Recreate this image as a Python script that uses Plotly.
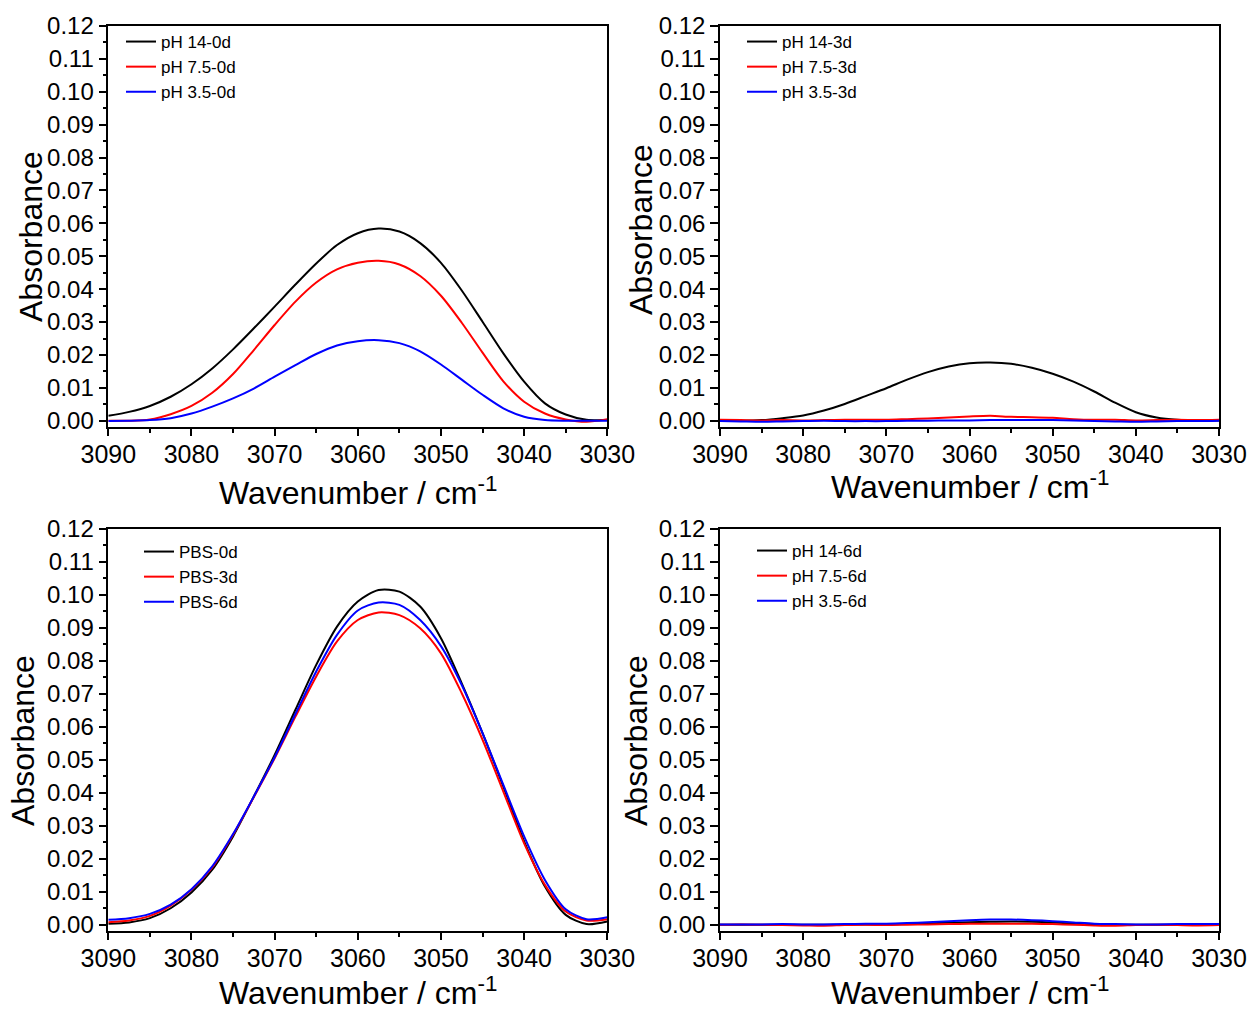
import plotly.graph_objects as go

# ---------------- data ----------------
wavenumber = [3090, 3087.5, 3085, 3082.5, 3080, 3077.5, 3075, 3072.5, 3070, 3067.5,
              3065, 3062.5, 3060, 3057.5, 3055, 3052.5, 3050, 3047.5, 3045, 3042.5,
              3040, 3037.5, 3035, 3032.5, 3030]

# panel a: day 0
ph14_0d = [0.0015, 0.0027, 0.0045, 0.0073, 0.0111, 0.0159, 0.0217, 0.0281, 0.0347, 0.0414,
           0.0478, 0.0534, 0.0570, 0.0584, 0.0575, 0.0540, 0.0480, 0.0396, 0.0301, 0.0205,
           0.0119, 0.0053, 0.0019, 0.0003, 0.0002]
ph75_0d = [0.0000, 0.0000, 0.0004, 0.0020, 0.0045, 0.0085, 0.0142, 0.0215, 0.0291, 0.0362,
           0.0420, 0.0460, 0.0480, 0.0486, 0.0475, 0.0440, 0.0380, 0.0298, 0.0207, 0.0120,
           0.0058, 0.0022, 0.0004, -0.0003, 0.0005]
ph35_0d = [-0.0001, 0.0000, 0.0002, 0.0008, 0.0022, 0.0043, 0.0068, 0.0098, 0.0134, 0.0169,
           0.0203, 0.0229, 0.0242, 0.0245, 0.0236, 0.0211, 0.0171, 0.0125, 0.0079, 0.0038,
           0.0012, 0.0002, 0.0000, 0.0000, 0.0000]

# panel b: day 3
ph14_3d = [0.0000, 0.0000, 0.0002, 0.0008, 0.0016, 0.0031, 0.0051, 0.0075, 0.0099, 0.0125,
           0.0148, 0.0165, 0.0175, 0.0177, 0.0173, 0.0161, 0.0143, 0.0119, 0.0089, 0.0055,
           0.0026, 0.0010, 0.0003, 0.0001, 0.0001]
ph75_3d = [0.0003, 0.0002, 0.0001, 0.0002, 0.0001, 0.0002, 0.0003, 0.0003, 0.0003, 0.0005,
           0.0007, 0.0010, 0.0013, 0.0015, 0.0012, 0.0011, 0.0009, 0.0005, 0.0003, 0.0003,
           0.0001, 0.0002, 0.0003, 0.0002, 0.0003]
ph35_3d = [-0.0001, -0.0002, -0.0003, -0.0002, -0.0001, 0.0000, -0.0001, -0.0001, -0.0001, 0.0000,
           0.0000, 0.0001, 0.0001, 0.0002, 0.0002, 0.0002, 0.0002, 0.0001, -0.0001, -0.0002,
           -0.0003, -0.0002, -0.0001, -0.0001, 0.0000]

# panel c: PBS
pbs_0d = [0.0003, 0.0007, 0.0020, 0.0050, 0.0098, 0.0167, 0.0268, 0.0389, 0.0515, 0.0652,
          0.0788, 0.0904, 0.0980, 0.1015, 0.1010, 0.0965, 0.0869, 0.0732, 0.0581, 0.0419,
          0.0253, 0.0116, 0.0030, 0.0002, 0.0010]
pbs_3d = [0.0008, 0.0013, 0.0027, 0.0058, 0.0106, 0.0174, 0.0273, 0.0387, 0.0505, 0.0631,
          0.0753, 0.0859, 0.0924, 0.0947, 0.0939, 0.0899, 0.0823, 0.0702, 0.0561, 0.0404,
          0.0247, 0.0121, 0.0040, 0.0013, 0.0017]
pbs_6d = [0.0015, 0.0020, 0.0033, 0.0061, 0.0108, 0.0177, 0.0275, 0.0389, 0.0508, 0.0639,
          0.0768, 0.0879, 0.0953, 0.0977, 0.0970, 0.0924, 0.0845, 0.0727, 0.0581, 0.0424,
          0.0268, 0.0136, 0.0047, 0.0017, 0.0023]

# panel d: day 6
ph14_6d = [0.0000, 0.0000, 0.0000, 0.0000, 0.0000, 0.0000, 0.0000, 0.0001, 0.0001, 0.0002,
           0.0004, 0.0006, 0.0008, 0.0009, 0.0010, 0.0009, 0.0007, 0.0004, 0.0001, 0.0000,
           0.0000, 0.0000, 0.0000, 0.0000, 0.0000]
ph75_6d = [0.0000, 0.0001, 0.0000, -0.0001, -0.0002, -0.0003, -0.0001, 0.0000, -0.0001, 0.0000,
           0.0001, 0.0002, 0.0003, 0.0003, 0.0003, 0.0003, 0.0002, 0.0000, -0.0002, -0.0003,
           -0.0001, 0.0000, -0.0001, -0.0002, -0.0001]
ph35_6d = [0.0001, 0.0001, 0.0001, 0.0002, 0.0001, 0.0001, 0.0002, 0.0003, 0.0003, 0.0005,
           0.0008, 0.0011, 0.0014, 0.0016, 0.0016, 0.0014, 0.0011, 0.0007, 0.0003, 0.0002,
           0.0001, 0.0001, 0.0002, 0.0002, 0.0002]

x_ticks = [3090, 3080, 3070, 3060, 3050, 3040, 3030]
x_ticktext = ["3090", "3080", "3070", "3060", "3050", "3040", "3030"]

panel_series = [
    [("pH 14-0d", ph14_0d), ("pH 7.5-0d", ph75_0d), ("pH 3.5-0d", ph35_0d)],
    [("pH 14-3d", ph14_3d), ("pH 7.5-3d", ph75_3d), ("pH 3.5-3d", ph35_3d)],
    [("PBS-0d", pbs_0d), ("PBS-3d", pbs_3d), ("PBS-6d", pbs_6d)],
    [("pH 14-6d", ph14_6d), ("pH 7.5-6d", ph75_6d), ("pH 3.5-6d", ph35_6d)],
]
colors = ["#000000", "#ff0000", "#0000ff"]

# ---------------- layout geometry ----------------
W, H = 1250, 1012
FONT = "Liberation Sans, Arial, sans-serif"
x_dom = [[108.3 / W, 607.3 / W], [720 / W, 1219 / W]]
y_dom = [[1 - 426.7 / H, 1 - 25.9 / H], [1 - 930.7 / H, 1 - 529 / H]]
panel_pos = [(0, 0), (1, 0), (0, 1), (1, 1)]  # (col, row)

fig = go.Figure()

for i, series in enumerate(panel_series):
    sfx = "" if i == 0 else str(i + 1)
    for (name, vals), col in zip(series, colors):
        fig.add_trace(go.Scatter(
            x=wavenumber, y=vals, mode="lines", name=name,
            line=dict(color=col, width=2, shape="spline", smoothing=0.8),
            xaxis="x" + sfx, yaxis="y" + sfx, legend="legend" + sfx,
            hoverinfo="skip"))

layout = dict(
    template="none",
    width=W, height=H, margin=dict(l=0, r=0, t=0, b=0, pad=0, autoexpand=False),
    paper_bgcolor="white", plot_bgcolor="white",
    font=dict(family=FONT, color="black"),
)

for i, (c, r) in enumerate(panel_pos):
    sfx = "" if i == 0 else str(i + 1)
    layout["xaxis" + sfx] = dict(
        domain=x_dom[c], anchor="y" + sfx, range=[3090, 3030], automargin=False,
        tickvals=x_ticks, ticktext=x_ticktext, ticklabelstandoff=-3,
        ticks="outside", ticklen=8, tickwidth=1.5, tickcolor="black",
        minor=dict(dtick=5, tick0=3030, ticks="outside", ticklen=5, tickwidth=1.5, tickcolor="black"),
        showline=True, linecolor="black", linewidth=1.5, mirror=True,
        showgrid=False, zeroline=False,
        tickfont=dict(size=25, family=FONT, color="black"))
    layout["yaxis" + sfx] = dict(
        domain=y_dom[r], anchor="x" + sfx, range=[-0.0018, 0.12], automargin=False,
        dtick=0.01, tick0=0, tickformat=".2f",
        ticks="outside", ticklen=8, tickwidth=1.5, tickcolor="black",
        minor=dict(dtick=0.005, tick0=0, ticks="outside", ticklen=4, tickwidth=1.5, tickcolor="black"),
        showline=True, linecolor="black", linewidth=1.5, mirror=True,
        showgrid=False, zeroline=False,
        tickfont=dict(size=24, family=FONT, color="black"))
    # top axis with inward ticks
    layout["xaxis" + str(i + 5)] = dict(
        overlaying="x" + sfx, anchor="y" + sfx, side="top", range=[3090, 3030], automargin=False,
        dtick=5, tick0=3030, ticks="inside", ticklen=7, tickwidth=1.5, tickcolor="black",
        showticklabels=False, showline=False, showgrid=False, zeroline=False)

legend_left = [121, 742, 139, 752]
legend_top = [24, 24, 534, 533]
for i in range(4):
    sfx = "" if i == 0 else str(i + 1)
    layout["legend" + sfx] = dict(
        x=legend_left[i] / W, y=1 - legend_top[i] / H, xanchor="left", yanchor="top",
        bgcolor="rgba(0,0,0,0)", borderwidth=0, tracegroupgap=0,
        font=dict(size=17, family=FONT, color="black"))

fig.update_layout(**layout)

# axis titles
xt_y = [491, 485, 991, 991]
yt_x = [31, 641, 23, 636]
yt_y = [237, 230, 741, 741]
for i, (c, r) in enumerate(panel_pos):
    xc = (x_dom[c][0] + x_dom[c][1]) / 2
    fig.add_annotation(x=xc, y=1 - xt_y[i] / H, xref="paper", yref="paper",
                       text="Wavenumber / cm<sup>-1</sup>", showarrow=False,
                       xanchor="center", yanchor="middle",
                       font=dict(size=32, family=FONT, color="black"))
    fig.add_annotation(x=yt_x[i] / W, y=1 - yt_y[i] / H, xref="paper", yref="paper",
                       text="Absorbance", textangle=-90, showarrow=False,
                       xanchor="center", yanchor="middle",
                       font=dict(size=32, family=FONT, color="black"))

fig.write_html(
    "out.html",
    config={"displayModeBar": False},
    post_script="document.body.style.margin='0';document.body.style.overflow='hidden';",
)
